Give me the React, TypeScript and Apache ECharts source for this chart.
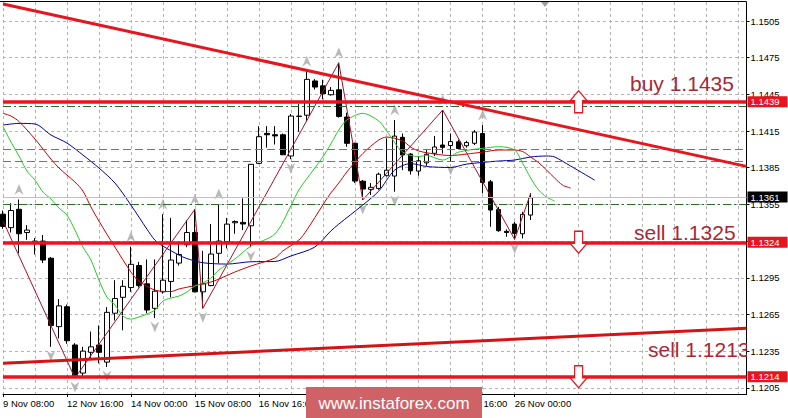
import React, { useEffect, useRef } from 'react';
import * as echarts from 'echarts';

// H4 candles: [open, close, low, high]
const candles: number[][] = [
  [1.1347, 1.1337, 1.1335, 1.135],
  [1.1336, 1.135, 1.1332, 1.1356],
  [1.1351, 1.1331, 1.1315, 1.1359],
  [1.1332, 1.1334, 1.1326, 1.1338],
  [1.1324, 1.1325, 1.1314, 1.13275],
  [1.1325, 1.13095, 1.1307, 1.133],
  [1.1311, 1.1256, 1.12385, 1.1312],
  [1.1255, 1.1272, 1.12454, 1.12776],
  [1.12713, 1.12435, 1.1241, 1.1273],
  [1.124, 1.1215, 1.1213, 1.12415],
  [1.1217, 1.1235, 1.1214, 1.12385],
  [1.1234, 1.12385, 1.1229, 1.1251],
  [1.124, 1.1234, 1.1225, 1.1256],
  [1.1226, 1.12667, 1.1222, 1.1271],
  [1.1266, 1.1278, 1.126, 1.1293],
  [1.1279, 1.1288, 1.1252, 1.1293],
  [1.1287, 1.1306, 1.12835, 1.13204],
  [1.1305, 1.12886, 1.1287, 1.1308],
  [1.129, 1.12686, 1.1266, 1.131],
  [1.127, 1.1284, 1.1262, 1.131],
  [1.12835, 1.1293, 1.1282, 1.1347],
  [1.1292, 1.13095, 1.1279, 1.1344],
  [1.1307, 1.1314, 1.1305, 1.1324],
  [1.1322, 1.1332, 1.132, 1.1342],
  [1.1332, 1.12835, 1.1283, 1.1351],
  [1.12835, 1.129, 1.127, 1.1317],
  [1.12886, 1.13144, 1.1288, 1.1339],
  [1.1315, 1.1325, 1.1307, 1.13553],
  [1.13245, 1.13389, 1.1319, 1.1344],
  [1.134, 1.1341, 1.1331, 1.1342],
  [1.13403, 1.1339, 1.1334, 1.136],
  [1.13375, 1.13878, 1.132, 1.1388],
  [1.13886, 1.14104, 1.1388, 1.1419],
  [1.14131, 1.1412, 1.14015, 1.1419],
  [1.1412, 1.1411, 1.1404, 1.1419],
  [1.1412, 1.13956, 1.13955, 1.1413],
  [1.13946, 1.14273, 1.1392, 1.1429],
  [1.1427, 1.14272, 1.14145, 1.1437],
  [1.1428, 1.14573, 1.1423, 1.1464],
  [1.1456, 1.1451, 1.1449, 1.14575],
  [1.1452, 1.14455, 1.1441, 1.1457],
  [1.14447, 1.14483, 1.1444, 1.1451],
  [1.14488, 1.1427, 1.1426, 1.14709],
  [1.14265, 1.1405, 1.14022, 1.143],
  [1.1405, 1.13741, 1.13725, 1.14055],
  [1.1374, 1.13676, 1.13586, 1.1375],
  [1.13673, 1.1369, 1.13627, 1.13725],
  [1.13681, 1.13797, 1.1367, 1.1381],
  [1.13785, 1.1383, 1.1378, 1.14091],
  [1.13782, 1.14109, 1.13654, 1.1424],
  [1.14099, 1.13954, 1.1383, 1.1413],
  [1.13962, 1.13825, 1.13794, 1.1397],
  [1.13823, 1.13907, 1.13785, 1.13946],
  [1.1389, 1.1396, 1.13866, 1.13995],
  [1.13968, 1.1402, 1.13946, 1.1411],
  [1.14036, 1.14017, 1.13966, 1.14322],
  [1.14032, 1.14064, 1.13905, 1.1413],
  [1.14062, 1.14007, 1.14, 1.1408],
  [1.1403, 1.14056, 1.14015, 1.1407],
  [1.1405, 1.14142, 1.14036, 1.14158],
  [1.1413, 1.13729, 1.13641, 1.14199],
  [1.13735, 1.13504, 1.13367, 1.1375],
  [1.13508, 1.13335, 1.13326, 1.1353],
  [1.1333, 1.1332, 1.13285, 1.13346],
  [1.13389, 1.13313, 1.13264, 1.13408],
  [1.1331, 1.13469, 1.13272, 1.1349],
  [1.13463, 1.13605, 1.13422, 1.13641],
];

const slotCount = 94;
const xTickLabels = [
  '9 Nov 08:00', '12 Nov 16:00', '14 Nov 00:00', '15 Nov 08:00', '16 Nov 16:00',
  '20 Nov 00:00', '21 Nov 08:00', '22 Nov 16:00', '26 Nov 00:00',
];
const xLabelStep = 8;
const xGridStep = 4;
const yTicks = [1.1205, 1.1235, 1.1265, 1.1295, 1.1325, 1.1355, 1.1385, 1.1415, 1.1445, 1.1475, 1.1505];
const yMin = 1.11999;
const yMax = 1.15206;

// Alligator lines: [slot, price]
const jaw: number[][] = [
  [0, 1.14199], [2, 1.14213], [4, 1.14208], [6, 1.14118], [8, 1.14052], [10, 1.13954], [12, 1.13848],
  [14, 1.13725], [16, 1.13545], [18, 1.13348], [19, 1.13258], [20, 1.13209], [22, 1.13136], [23, 1.13107],
  [25, 1.13073], [28, 1.13062], [31, 1.13081], [34, 1.13083], [36, 1.13128], [39, 1.13201], [41, 1.13332],
  [42, 1.13389], [45, 1.13545], [47, 1.13659], [49, 1.13831], [51, 1.13884], [53, 1.1386], [56, 1.13852],
  [58, 1.1388], [62, 1.13905], [64, 1.13913], [66, 1.13938], [68, 1.13946], [69, 1.13938], [71, 1.13864],
  [74, 1.13749],
];
const teeth: number[][] = [
  [0, 1.14295], [1, 1.14273], [2, 1.14228], [4, 1.14085], [5, 1.14003], [6, 1.13921], [7, 1.13848],
  [9, 1.13733], [10, 1.13659], [11, 1.13529], [12, 1.13414], [14, 1.13201], [16, 1.12997], [17, 1.12923],
  [19, 1.12849], [21, 1.12837], [22, 1.12858], [24, 1.12886], [26, 1.12915], [27, 1.12939], [29, 1.12997],
  [31, 1.13046], [34, 1.13111], [35, 1.13169], [37, 1.13258], [38, 1.1334], [40, 1.13545], [41, 1.13643],
  [42, 1.13725], [43, 1.13815], [45, 1.13966], [47, 1.14077], [48, 1.14101], [50, 1.14069], [51, 1.14019],
  [52, 1.13987], [54, 1.13962], [56, 1.1395], [58, 1.13962], [60, 1.13978], [62, 1.13995], [64, 1.13995],
  [65, 1.13983], [66, 1.13938], [67, 1.13892], [68, 1.13831], [69, 1.13766], [70, 1.13708], [71, 1.13684],
];
const lips: number[][] = [
  [0, 1.14187], [1, 1.1406], [2, 1.13946], [3, 1.13823], [4, 1.13749], [5, 1.13651], [6, 1.13594],
  [7, 1.1352], [8, 1.13463], [9, 1.1334], [10, 1.13201], [11, 1.13095], [12, 1.12931], [13, 1.12792],
  [14, 1.12727], [15, 1.12637], [16, 1.12612], [17, 1.12629], [18, 1.12653], [19, 1.12686], [20, 1.12759],
  [21, 1.12784], [22, 1.128], [23, 1.12833], [24, 1.12882], [25, 1.12907], [26, 1.12948], [27, 1.13013],
  [29, 1.13103], [31, 1.13209], [34, 1.13308], [36, 1.13537], [37, 1.13668], [39, 1.13848], [40, 1.13938],
  [41, 1.14044], [42, 1.14159], [43, 1.1424], [45, 1.14295], [47, 1.14232], [48, 1.1415], [50, 1.13978],
  [52, 1.13942], [53, 1.1395], [55, 1.13913], [57, 1.13978], [60, 1.14009], [62, 1.14022], [64, 1.13995],
  [65, 1.13886], [66, 1.13766], [67, 1.13668], [68, 1.1361], [69, 1.13578],
];
const zigzag: number[][] = [
  [0, 1.13414], [9, 1.1213], [24, 1.1351], [25, 1.127], [42, 1.14709], [45, 1.13586], [55, 1.14322],
  [64, 1.13264], [66, 1.13641],
];
const fractalUp = [2, 16, 20, 24, 27, 38, 42, 49, 55, 60];
const fractalDown = [6, 9, 13, 19, 25, 31, 36, 45, 49, 56, 64];

const thickLevels = [1.1439, 1.1324, 1.1214];
const greenLevels = [1.14355, 1.13553];
const orangeLevels = [1.14, 1.139];
const bidPrice = 1.1361;
const upperTrend = [[0, 1.15189], [93, 1.13861]];
const lowerTrend = [[0, 1.1225], [93, 1.12536]];
const signalTexts = ['buy 1.1435', 'sell 1.1325', 'sell 1.1213'];
const arrowSlot = 72;
const watermark = 'www.instaforex.com';

export default function App() {
  const ref = useRef<HTMLDivElement>(null);
  useEffect(() => {
    const chart = echarts.init(ref.current!, null, { renderer: 'svg' });
    const RED = '#e8141e';
    const TXT = '#a82838';
    const FF = '"Liberation Sans", Arial, sans-serif';
    const isLabel = (i: number) => i % xLabelStep === 0 && i / xLabelStep < xTickLabels.length;
    const levelLabel = (bg: string, v: number) => ({
      show: true, position: 'end', distance: 1, formatter: v.toFixed(4), backgroundColor: bg, color: '#fff',
      padding: [1, 8, 0, 3], fontFamily: FF, fontSize: 9.5, lineHeight: 10,
    });
    const upArrow = 'path://M8.5 0 L17 10 L12.5 10 L12.5 22 L4.5 22 L4.5 10 L0 10 Z';
    const downArrow = 'path://M4.5 0 L12.5 0 L12.5 12 L17 12 L8.5 22 L0 12 L4.5 12 Z';
    const option: any = {
      animation: false,
      backgroundColor: '#fff',
      grid: { left: 0.5, right: 41.5, top: 2, bottom: 24 },
      xAxis: {
        type: 'category',
        boundaryGap: false,
        data: Array.from({ length: slotCount }, (_, i) => String(i)),
        axisLine: { show: true, lineStyle: { color: '#000', width: 1 } },
        axisTick: { show: true, length: 3, interval: (i: number) => isLabel(i), lineStyle: { color: '#000' } },
        axisLabel: {
          interval: (i: number) => isLabel(i),
          formatter: (_v: string, i: number) => xTickLabels[i / xLabelStep] ?? '',
          align: 'left', margin: 4, color: '#000', fontFamily: FF, fontSize: 9.5,
        },
        splitLine: { show: true, interval: (i: number) => i % xGridStep === 0, lineStyle: { color: '#b4b4b4', type: [3, 3], width: 1 } },
      },
      yAxis: {
        type: 'value',
        position: 'right',
        min: yMin,
        max: yMax,
        axisLine: { show: true, lineStyle: { color: '#000', width: 1 } },
        axisTick: { show: true, length: 3, customValues: yTicks, lineStyle: { color: '#000' } },
        axisLabel: {
          customValues: yTicks, formatter: (v: number) => v.toFixed(4), margin: 4,
          color: '#000', fontFamily: FF, fontSize: 9.5,
        },
        splitLine: { show: true, lineStyle: { color: '#b4b4b4', type: [3, 3], width: 1 } },
      },
      series: [
        {
          type: 'candlestick', data: candles, barWidth: 5,
          itemStyle: { color: '#fff', color0: '#000', borderColor: '#000', borderColor0: '#000', borderColorDoji: '#000', borderWidth: 1 },
        },
        { type: 'line', data: jaw, smooth: 0.3, symbol: 'none', lineStyle: { color: '#0000a8', width: 1 } },
        { type: 'line', data: teeth, smooth: 0.3, symbol: 'none', lineStyle: { color: '#cc0000', width: 1 } },
        { type: 'line', data: lips, smooth: 0.3, symbol: 'none', lineStyle: { color: '#22cc22', width: 1 } },
        {
          type: 'scatter', data: fractalUp.map((i) => [i, candles[i][3]]),
          symbol: 'path://M5 0 L10 11 L5 7.5 L0 11 Z', symbolSize: [9, 11], symbolOffset: [0, -10],
          itemStyle: { color: '#a8a8a8' },
        },
        {
          type: 'scatter', data: fractalDown.map((i) => [i, candles[i][2]]),
          symbol: 'path://M0 0 L5 3.5 L10 0 L5 11 Z', symbolSize: [9, 11], symbolOffset: [0, 9],
          itemStyle: { color: '#a8a8a8' },
        },
        {
          type: 'line', data: zigzag, symbol: 'none', lineStyle: { color: '#a5102a', width: 1 },
          markLine: {
            silent: true, symbol: ['none', 'none'], animation: false, precision: 6,
            label: { show: false },
            emphasis: { disabled: true },
            data: [
              ...greenLevels.map((v) => ({ yAxis: v, lineStyle: { color: '#2f6b2f', width: 1, type: [8, 3, 2, 3] }, label: { show: false } })),
              ...orangeLevels.map((v) => ({ yAxis: v, lineStyle: { color: '#d9541a', width: 1, type: [8, 4] }, label: { show: false } })),
              { yAxis: bidPrice, lineStyle: { color: '#c0c0c0', width: 1, type: 'solid' }, label: levelLabel('#000', bidPrice) },
              [
                { coord: upperTrend[0], lineStyle: { color: RED, width: 3, type: 'solid' }, label: { show: false } },
                { coord: upperTrend[1] },
              ],
              [
                { coord: lowerTrend[0], lineStyle: { color: '#d41414', width: 3, type: 'solid' }, label: { show: false } },
                { coord: lowerTrend[1] },
              ],
              ...thickLevels.map((v) => ({ yAxis: v, lineStyle: { color: RED, width: 3.5, type: 'solid' }, label: levelLabel(RED, v) })),
            ],
          },
          markPoint: {
            silent: true, animation: false,
            label: { show: false },
            itemStyle: { color: '#fff', borderColor: RED, borderWidth: 1.3 },
            data: [
              { coord: [arrowSlot, thickLevels[0]], symbol: upArrow, symbolSize: [17, 22] },
              { coord: [arrowSlot, thickLevels[1]], symbol: downArrow, symbolSize: [17, 22] },
              { coord: [arrowSlot, thickLevels[2]], symbol: downArrow, symbolSize: [17, 22] },
            ],
          },
        },
        {
          // signal text that is cut by the plot's right edge
          type: 'custom', clip: true, silent: true, z: 6,
          data: [[0, thickLevels[2]]],
          renderItem: () => ({
            type: 'text', x: 648, y: 339,
            style: { text: signalTexts[2], font: `21px ${FF}`, fill: TXT, verticalAlign: 'top', textVerticalAlign: 'top' },
          }),
        },
      ],
      graphic: [
        { type: 'line', silent: true, z: 50, shape: { x1: 0, y1: 1.5, x2: 746.5, y2: 1.5 }, style: { stroke: '#000', lineWidth: 1 } },
        { type: 'polygon', silent: true, z: 50, shape: { points: [[541, 2], [549, 2], [545, 7]] }, style: { fill: '#a0a0a0' } },
        {
          type: 'text', z: 60, x: 630, y: 72.5,
          style: { text: signalTexts[0], font: `21px ${FF}`, fill: TXT, verticalAlign: 'top', textVerticalAlign: 'top' },
        },
        {
          type: 'text', z: 60, x: 634, y: 221.5,
          style: { text: signalTexts[1], font: `21px ${FF}`, fill: TXT, verticalAlign: 'top', textVerticalAlign: 'top' },
        },
        { type: 'rect', z: 100, shape: { x: 306, y: 387, width: 176, height: 31 }, style: { fill: '#cf6266' } },
        {
          type: 'text', z: 101, x: 394, y: 403,
          style: { text: watermark, font: `17px ${FF}`, fill: '#fff', align: 'center', textAlign: 'center', verticalAlign: 'middle', textVerticalAlign: 'middle' },
        },
      ],
    };
    chart.setOption(option);
    return () => chart.dispose();
  }, []);
  return <div ref={ref} style={{ position: 'fixed', left: 0, top: 0, width: 788, height: 418, background: '#fff' }} />;
}
